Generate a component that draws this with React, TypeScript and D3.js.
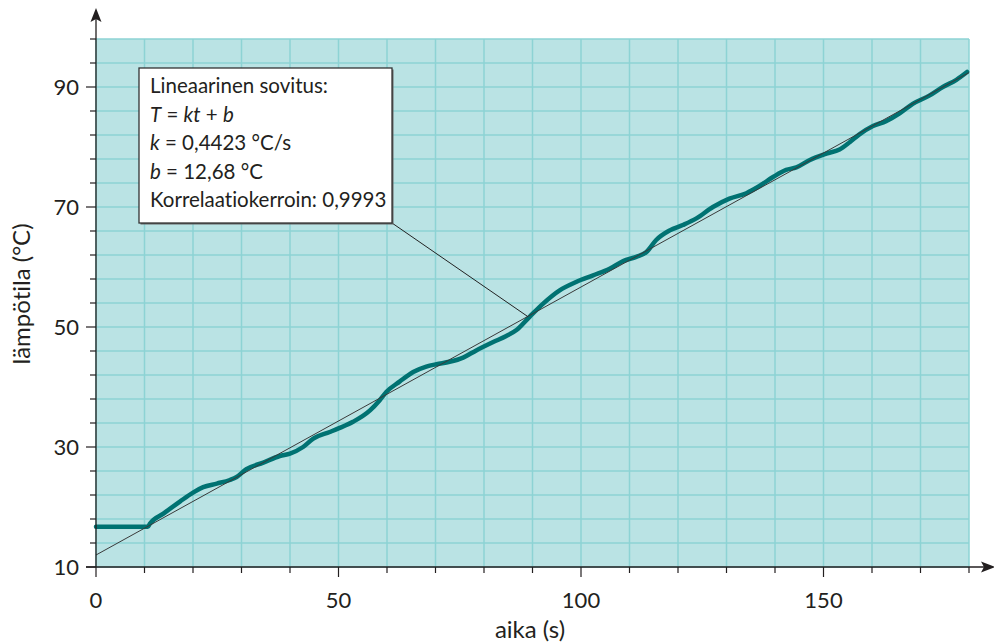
import React from 'react';
import * as d3 from 'd3';

// Measured series: time (s) and temperature (°C)
const timeS = [0, 10.7, 11.1, 13.9, 17.3, 20.0, 22.1, 24.9, 27.6, 29.0, 31.0, 34.5, 37.9, 40.0, 42.7, 44.8, 48.2, 50.0, 53.0, 56.5, 58.5, 59.9, 62.6, 65.4, 68.1, 70.2, 72.9, 75.7, 78.4, 81.9, 84.6, 86.7, 89.4, 92.2, 95.6, 99.0, 102.5, 105.9, 108.7, 111.4, 113.5, 115.5, 118.3, 121.0, 123.8, 127.2, 130.6, 134.1, 136.8, 139.6, 142.3, 144.4, 147.1, 150.6, 153.3, 155.4, 157.4, 160.2, 162.9, 165.7, 168.4, 171.9, 174.6, 177.4, 179.6];
const tempC = [16.7, 16.7, 17.2, 18.9, 20.9, 22.4, 23.3, 23.9, 24.5, 25.0, 26.3, 27.4, 28.5, 28.9, 30.0, 31.4, 32.5, 33.1, 34.2, 36.1, 37.8, 39.2, 40.9, 42.5, 43.4, 43.8, 44.2, 44.9, 46.1, 47.5, 48.5, 49.5, 51.7, 53.9, 56.1, 57.5, 58.6, 59.7, 61.0, 61.7, 62.5, 64.5, 66.1, 67.0, 68.1, 70.0, 71.4, 72.3, 73.5, 75.0, 76.2, 76.6, 77.8, 78.9, 79.6, 80.8, 82.1, 83.5, 84.3, 85.6, 87.2, 88.6, 90.0, 91.2, 92.5];

// Fitted line as drawn (endpoints)
const fitTimes = [0, 180];
const fitTemps = [12.0, 92.4];

const xTickLabels = [0, 50, 100, 150];
const yTickLabels = [10, 30, 50, 70, 90];
const xGridStep = 10;
const yGridStep = 4;
const xDomain = [0, 180];
const yDomain = [10, 98];

const xAxisTitle = 'aika (s)';
const yAxisTitle = 'lämpötila (°C)';
const annotationTarget = 89; // time where the leader line meets the fit

const W = 994;
const H = 643;
const FONT = 'Lato, "Open Sans", sans-serif';
const TXT = '#231f20';

export default function App() {
  const x = d3.scaleLinear().domain(xDomain).range([96, 969]);
  const y = d3.scaleLinear().domain(yDomain).range([567, 39]);

  const xGrid = d3.range(xDomain[0], xDomain[1] + 0.001, xGridStep);
  const yGrid = d3.range(yDomain[0], yDomain[1] + 0.001, yGridStep);

  const pts: [number, number][] = timeS.map((t, i) => [t, tempC[i]]);
  const line = d3
    .line<[number, number]>()
    .x((d) => x(d[0]))
    .y((d) => y(d[1]))
    .curve(d3.curveMonotoneX);

  const fitAt = (t: number) =>
    fitTemps[0] + ((fitTemps[1] - fitTemps[0]) * (t - fitTimes[0])) / (fitTimes[1] - fitTimes[0]);

  const boxX = 139;
  const boxY = 68;
  const boxW = 253;
  const boxH = 155;
  const lineH = 28.5;

  const x0 = x(xDomain[0]);
  const yb = y(yDomain[0]);

  return (
    <svg
      width={W}
      height={H}
      style={{ position: 'absolute', left: 0, top: 0, display: 'block', background: '#fff', fontVariantLigatures: 'none' }}
      fontFamily={FONT}
    >
      {/* plot background */}
      <rect x={x(xDomain[0])} y={y(yDomain[1])} width={x(xDomain[1]) - x(xDomain[0])} height={y(yDomain[0]) - y(yDomain[1])} fill="#bae3e4" />
      {/* grid */}
      {xGrid.map((v) => (
        <line key={'gx' + v} x1={x(v)} x2={x(v)} y1={y(yDomain[0])} y2={y(yDomain[1])} stroke="#8dd3d4" strokeWidth={1.5} />
      ))}
      {yGrid.map((v) => (
        <line key={'gy' + v} x1={x(xDomain[0])} x2={x(xDomain[1])} y1={y(v)} y2={y(v)} stroke="#8dd3d4" strokeWidth={1.5} />
      ))}

      {/* data curve */}
      <path d={line(pts) || ''} fill="none" stroke="#007272" strokeWidth={4.5} strokeLinejoin="round" strokeLinecap="round" />
      {/* fit line */}
      <line x1={x(fitTimes[0])} y1={y(fitTemps[0])} x2={x(fitTimes[1])} y2={y(fitTemps[1])} stroke="#3a3a3a" strokeWidth={1} />

      {/* axes */}
      <line x1={x0} x2={x0} y1={yb} y2={18} stroke={TXT} strokeWidth={1.3} />
      <path d={`M${x0},8 L${x0 - 5.5},22 L${x0},19 L${x0 + 5.5},22 Z`} fill={TXT} />
      <line x1={x0 - 10} x2={984} y1={yb} y2={yb} stroke={TXT} strokeWidth={1.3} />
      <path d={`M995,${yb} L981,${yb - 5.5} L984,${yb} L981,${yb + 5.5} Z`} fill={TXT} />

      {/* ticks */}
      {xGrid.map((v) => (
        <line key={'tx' + v} x1={x(v)} x2={x(v)} y1={yb} y2={yb + (xTickLabels.includes(v) ? 10 : 6)} stroke={TXT} strokeWidth={1.2} />
      ))}
      {yGrid.map((v) => (
        <line key={'ty' + v} x1={x0 - (yTickLabels.includes(v) ? 10 : 6)} x2={x0} y1={y(v)} y2={y(v)} stroke={TXT} strokeWidth={1.2} />
      ))}
      {xTickLabels.map((v) => (
        <text key={'lx' + v} x={x(v)} y={608} textAnchor="middle" fontSize={22} fill={TXT}>
          {v}
        </text>
      ))}
      {yTickLabels.map((v) => (
        <text key={'ly' + v} x={79} y={y(v) + 8} textAnchor="end" fontSize={22} fill={TXT}>
          {v}
        </text>
      ))}

      {/* axis titles */}
      <text x={530} y={638} textAnchor="middle" fontSize={24} fill={TXT}>
        {xAxisTitle}
      </text>
      <text transform={`translate(30,294) rotate(-90)`} textAnchor="middle" fontSize={24} fill={TXT}>
        {yAxisTitle}
      </text>

      {/* annotation */}
      <line x1={boxX + boxW} y1={boxY + boxH} x2={x(annotationTarget)} y2={y(fitAt(annotationTarget))} stroke="#222" strokeWidth={1} />
      <rect x={boxX + 1.5} y={boxY + 1.5} width={boxW} height={boxH} fill="#666" />
      <rect x={boxX} y={boxY} width={boxW} height={boxH} fill="#fff" stroke="#333" strokeWidth={1.3} />
      <g fontSize={20.5} fill={TXT}>
        <text x={150} y={boxY + 25}>Lineaarinen sovitus:</text>
        <text x={150} y={boxY + 25 + lineH}>
          <tspan fontStyle="italic">T</tspan> = <tspan fontStyle="italic">kt</tspan> + <tspan fontStyle="italic">b</tspan>
        </text>
        <text x={150} y={boxY + 25 + 2 * lineH}>
          <tspan fontStyle="italic">k</tspan> = 0,4423 °C/s
        </text>
        <text x={150} y={boxY + 25 + 3 * lineH}>
          <tspan fontStyle="italic">b</tspan> = 12,68 °C
        </text>
        <text x={150} y={boxY + 25 + 4 * lineH}>Korrelaatiokerroin: 0,9993</text>
      </g>
    </svg>
  );
}
